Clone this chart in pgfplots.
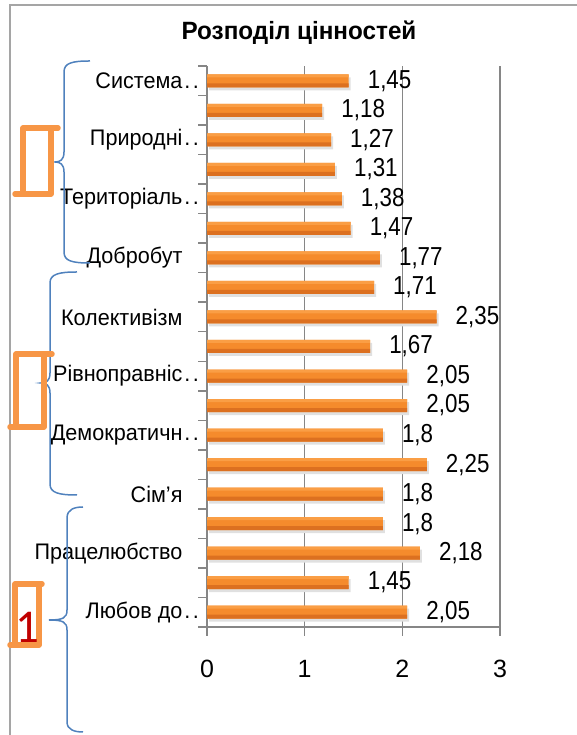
\documentclass[border=0pt]{standalone}
\usepackage{pgfplots}
\pgfplotsset{compat=1.18}
\usepackage{pgfplotstable}
\usepackage{fontspec}
\setmainfont{Liberation Sans}
\newfontfamily\catfont[FakeStretch=0.96]{Liberation Sans}
\newfontfamily\valfont[FakeStretch=0.86]{Liberation Sans}
\newfontfamily\titlefont[FakeStretch=0.97]{Liberation Sans}
\newfontfamily\onefont{Carlito}
\definecolor{gridgray}{HTML}{868686}
\definecolor{framegray}{HTML}{A5A5A5}
\definecolor{barlight}{HTML}{FA9E45}
\definecolor{barmid}{HTML}{F58B2C}
\definecolor{bardark}{HTML}{DC7020}
\definecolor{shadowgray}{HTML}{E0E0E0}
\definecolor{bracecol}{HTML}{4F81BD}
\definecolor{rectcol}{HTML}{F79646}
\definecolor{onecol}{HTML}{C00000}
% pos 19 = top bar, pos 1 = bottom bar
\pgfplotstableread{
pos val
19 1.45
18 1.18
17 1.27
16 1.31
15 1.38
14 1.47
13 1.77
12 1.71
11 2.35
10 1.67
9 2.05
8 2.05
7 1.8
6 2.25
5 1.8
4 1.8
3 2.18
2 1.45
1 2.05
}\datatable
\newcommand\dd{\rlap{\kern2pt.\kern2.5pt.}}
\begin{document}
\begin{tikzpicture}
\useasboundingbox (0,0) rectangle (577pt,735pt);
\begin{axis}[
  at={(207pt,108pt)}, anchor=south west,
  scale only axis, width=293pt, height=561pt,
  xmin=0, xmax=3, ymin=0.5, ymax=19.5,
  xtick={0,1,2,3},
  ytick={1,3,...,19},
  yticklabels={Любов до\dd, Працелюбство, Сім’я, Демократичн\dd, Рівноправніс\dd, Колективізм, Добробут, Територіаль\dd, Природні\dd, Система\dd},
  minor ytick={0.5,1.5,...,19.5},
  every major y tick/.style={draw=none},
  xmajorgrids,
  grid style={color=gridgray, line width=1.5pt},
  axis x line*=bottom, axis y line*=left,
  axis line style={color=gridgray, line width=1.5pt, -},
  tick style={color=gridgray, line width=1.5pt},
  major tick length=9pt, minor tick length=9pt,
  tick align=outside,
  /pgf/number format/assume math mode=true,
  /pgf/number format/use comma,
  /pgf/number format/fixed,
  /pgf/number format/precision=2,
  yticklabel style={font=\catfont\fontsize{22.5}{22.5}\selectfont, anchor=east, xshift=-12pt},
  xticklabel style={font=\fontsize{25}{25}\selectfont, anchor=north, yshift=-21pt},
  clip=false,
]
\addplot[xbar, bar width=13pt, draw=none, fill=shadowgray, bar shift=-3pt, xshift=2pt] table[x=val, y=pos] {\datatable};
\addplot[xbar, bar width=13pt, draw=none, fill=barmid, bar shift=0pt,
  point meta=x, nodes near coords,
  nodes near coords style={font=\valfont\fontsize{26}{26}\selectfont, anchor=west, inner sep=0pt, xshift=19pt, text=black}]
  table[x=val, y=pos] {\datatable};
\addplot[xbar, bar width=4pt, draw=none, fill=bardark, bar shift=-4.5pt] table[x=val, y=pos] {\datatable};
\addplot[xbar, bar width=3pt, draw=none, fill=barlight, bar shift=5pt] table[x=val, y=pos] {\datatable};
\end{axis}
\begin{scope}[x=1pt, y=-1pt, yshift=735pt]
  \draw[framegray, line width=1.5pt] (10,740) -- (10,5) -- (580,5);
  \node[font=\titlefont\bfseries\fontsize{25}{25}\selectfont] at (299,33) {Розподіл цінностей};
  \begin{scope}[bracecol, line width=1.5pt]
    \draw (90,61) .. controls (72,61) and (64,63) .. (64,72) -- (64,152) .. controls (64,160) and (60,162) .. (55,162) .. controls (60,162) and (64,164) .. (64,172) -- (64,252) .. controls (64,261) and (72,263) .. (90,263);
    \draw (77,272) .. controls (59,272) and (50,274) .. (50,283) -- (50,373) .. controls (50,381) and (46,383) .. (41,383) .. controls (46,383) and (50,385) .. (50,393) -- (50,484) .. controls (50,493) and (59,495) .. (77,495);
    \draw (83,507) .. controls (75,507) and (67,509) .. (67,518) -- (67,610) .. controls (67,618) and (63,620) .. (49,620) .. controls (63,620) and (67,622) .. (67,630) -- (67,722) .. controls (67,730) and (75,732) .. (83,732);
  \end{scope}
  \begin{scope}[rectcol, line width=5.5pt, line cap=round, line join=round]
    \draw (58,128) -- (23,128) -- (23,194);
    \draw (15,194) -- (51,194) -- (51,128);
    \draw (52,354) -- (16,354) -- (16,427);
    \draw (10,427) -- (44,427) -- (44,356);
    \draw (42,584) -- (15,584) -- (15,645);
    \draw (10,645) -- (39,645) -- (39,586);
  \end{scope}
  \node[font=\onefont\fontsize{47}{47}\selectfont, text=onecol, anchor=base, inner sep=0pt] at (27.5,643) {1};
\end{scope}
\end{tikzpicture}
\end{document}
